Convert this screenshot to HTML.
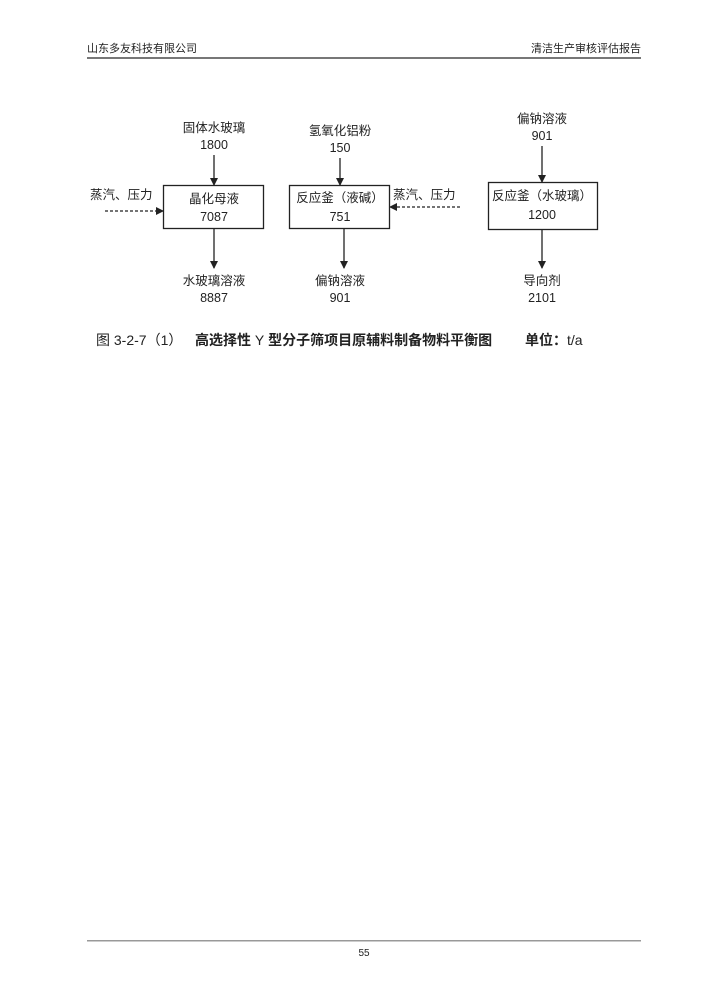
<!DOCTYPE html>
<html><head><meta charset="utf-8"><style>
body{margin:0;background:#fff}
svg{display:block}
text{font-family:"Liberation Sans","Noto Sans CJK SC",sans-serif;fill:#222}
</style></head><body>
<svg width="728" height="1000" viewBox="0 0 728 1000" xmlns="http://www.w3.org/2000/svg">
<defs><marker id="a" markerWidth="8" markerHeight="8" refX="7" refY="4" orient="auto" markerUnits="userSpaceOnUse"><path d="M0,0 L8,4 L0,8 z" fill="#222"/></marker></defs>
<text x="87" y="52" font-size="11">山东多友科技有限公司</text>
<text x="641" y="52" font-size="11" text-anchor="end">清洁生产审核评估报告</text>
<rect x="87" y="57" width="554" height="2" fill="#777"/>
<g font-size="12.5" text-anchor="middle">
<text x="214" y="132">固体水玻璃</text><text x="214" y="149">1800</text>
<text x="340" y="135">氢氧化铝粉</text><text x="340" y="152">150</text>
<text x="542" y="123">偏钠溶液</text><text x="542" y="140">901</text>
<text x="214" y="203">晶化母液</text><text x="214" y="221">7087</text>
<text x="340" y="202">反应釜（液碱）</text><text x="340" y="221">751</text>
<text x="542" y="200">反应釜（水玻璃）</text><text x="542" y="219">1200</text>
<text x="214" y="285">水玻璃溶液</text><text x="214" y="302">8887</text>
<text x="340" y="285">偏钠溶液</text><text x="340" y="302">901</text>
<text x="542" y="285">导向剂</text><text x="542" y="302">2101</text>
</g>
<text x="90" y="199" font-size="12.5">蒸汽、压力</text>
<text x="393" y="199" font-size="12.5">蒸汽、压力</text>
<g fill="none" stroke="#222" stroke-width="1.3">
<rect x="163.5" y="185.5" width="100" height="43"/>
<rect x="289.5" y="185.5" width="100" height="43"/>
<rect x="488.5" y="182.5" width="109" height="47"/>
<line x1="214" y1="155" x2="214" y2="185" marker-end="url(#a)"/>
<line x1="340" y1="158" x2="340" y2="185" marker-end="url(#a)"/>
<line x1="542" y1="146" x2="542" y2="182" marker-end="url(#a)"/>
<line x1="214" y1="229" x2="214" y2="268" marker-end="url(#a)"/>
<line x1="344" y1="229" x2="344" y2="268" marker-end="url(#a)"/>
<line x1="542" y1="229" x2="542" y2="268" marker-end="url(#a)"/>
<line x1="105" y1="211" x2="163" y2="211" stroke-dasharray="3,2" marker-end="url(#a)"/>
<line x1="460" y1="207" x2="390" y2="207" stroke-dasharray="3,2" marker-end="url(#a)"/>
</g>
<text x="96" y="345" font-size="14">图 3-2-7（1）</text>
<text x="195" y="345" font-size="14" font-weight="bold">高选择性 <tspan font-weight="normal">Y</tspan> 型分子筛项目原辅料制备物料平衡图</text>
<text x="525" y="345" font-size="14"><tspan font-weight="bold">单位：</tspan>t/a</text>
<rect x="87" y="940" width="554" height="1.5" fill="#999"/>
<text x="364" y="956" font-size="10" text-anchor="middle">55</text>
</svg>
</body></html>
